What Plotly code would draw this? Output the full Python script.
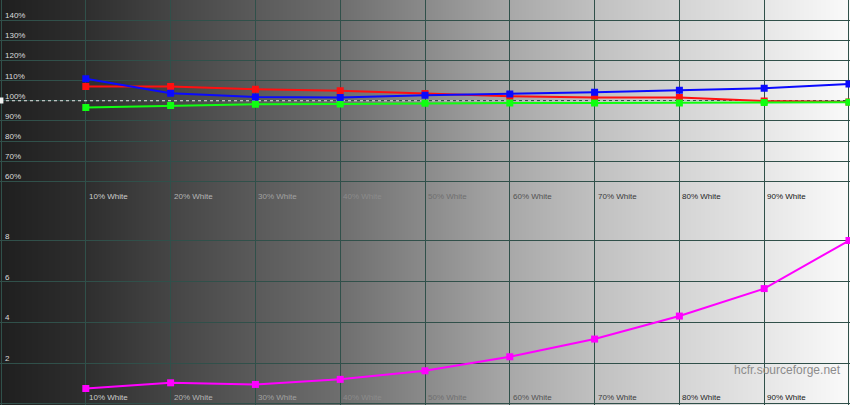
import base64
import struct
import zlib
import plotly.graph_objects as go

# ---- data ----
levels = [10, 20, 30, 40, 50, 60, 70, 80, 90, 100]
level_labels = ["10% White", "20% White", "30% White", "40% White", "50% White",
                "60% White", "70% White", "80% White", "90% White"]
red = [107.1, 107.1, 105.7, 104.9, 103.6, 102.2, 101.6, 101.6, 99.9, 99.4]
green = [96.7, 97.6, 98.3, 98.4, 98.8, 98.9, 98.9, 98.9, 99.1, 99.3]
blue = [110.9, 103.7, 101.9, 101.6, 102.7, 103.4, 104.2, 105.2, 106.2, 108.3]
delta_e = [0.75, 1.03, 0.95, 1.2, 1.62, 2.31, 3.18, 4.31, 5.66, 8.02]
pct_ticks = [60, 70, 80, 90, 100, 110, 120, 130, 140]
de_ticks = [2, 4, 6, 8]

# background gradient (grey level at each 10% step)
bg_pos = [0, 10, 20, 30, 40, 50, 60, 70, 80, 90, 100]
bg_grey = [31, 46, 69, 90, 110, 138, 168, 192, 212, 230, 250]

GRID = "#30504a"
FONT = "Liberation Sans, Arial, sans-serif"
XR = [-0.12, 100.12]
TOP_R = [50.0, 150.0]
BOT_R = [-0.06, 9.94]
W, H = 850, 405


def grey_at(p):
    if p <= bg_pos[0]:
        return bg_grey[0]
    for i in range(len(bg_pos) - 1):
        if bg_pos[i] <= p <= bg_pos[i + 1]:
            t = (p - bg_pos[i]) / (bg_pos[i + 1] - bg_pos[i])
            return bg_grey[i] + t * (bg_grey[i + 1] - bg_grey[i])
    return bg_grey[-1]


def gradient_png():
    row = bytearray([0])
    for c in range(W):
        p = XR[0] + (c + 0.5) / W * (XR[1] - XR[0])
        g = int(round(grey_at(p)))
        row += bytes([g, g, g])
    raw = bytes(row)

    def chunk(tag, data):
        return (struct.pack(">I", len(data)) + tag + data +
                struct.pack(">I", zlib.crc32(tag + data) & 0xFFFFFFFF))

    png = b"\x89PNG\r\n\x1a\n"
    png += chunk(b"IHDR", struct.pack(">IIBBBBB", W, 1, 8, 2, 0, 0, 0))
    png += chunk(b"IDAT", zlib.compress(raw))
    png += chunk(b"IEND", b"")
    return "data:image/png;base64," + base64.b64encode(png).decode()


fig = go.Figure()

# 100% reference dashed line
fig.add_trace(go.Scatter(x=[XR[0], XR[1]], y=[100, 100], mode="lines",
                         line=dict(color="#e8e8e8", width=1.2, dash="3px,3px"),
                         hoverinfo="skip", showlegend=False, xaxis="x", yaxis="y"))

for vals, col in ((red, "#ff1010"), (green, "#10ff10"), (blue, "#0a0aff")):
    fig.add_trace(go.Scatter(x=levels, y=vals, mode="lines+markers",
                             line=dict(color=col, width=2),
                             marker=dict(symbol="square", size=7, color=col),
                             showlegend=False, xaxis="x", yaxis="y"))

fig.add_trace(go.Scatter(x=levels, y=delta_e, mode="lines+markers",
                         line=dict(color="#ff00ff", width=2),
                         marker=dict(symbol="square", size=7, color="#ff00ff"),
                         showlegend=False, xaxis="x2", yaxis="y2"))

annotations = []
for i, lab in enumerate(level_labels):
    g = int(255 - grey_at(levels[i] + 2))
    c = f"rgb({g},{g},{g})"
    for ya, yv in (("y", 52.3), ("y2", 0.285)):
        annotations.append(dict(x=levels[i], y=yv, xref="x" if ya == "y" else "x2", yref=ya,
                                text=lab, showarrow=False, xanchor="left", yanchor="middle",
                                xshift=1, font=dict(family=FONT, size=8, color=c)))
for v in pct_ticks:
    annotations.append(dict(x=0.003, y=v, xref="paper", yref="y", text=f"{v}%",
                            showarrow=False, xanchor="left", yanchor="bottom", yshift=-2,
                            font=dict(family=FONT, size=8, color="#dcdcdc")))
for v in de_ticks:
    annotations.append(dict(x=0.003, y=v, xref="paper", yref="y2", text=str(v),
                            showarrow=False, xanchor="left", yanchor="bottom", yshift=-2,
                            font=dict(family=FONT, size=8, color="#dcdcdc")))
annotations.append(dict(x=0.992, y=1.66, xref="paper", yref="y2", text="hcfr.sourceforge.net",
                        showarrow=False, xanchor="right", yanchor="middle",
                        font=dict(family=FONT, size=12, color="#8c8c8c")))

axis_common = dict(showticklabels=False, zeroline=False, showline=False, ticks="",
                   gridcolor=GRID, gridwidth=1)
fig.update_layout(
    width=W, height=H,
    margin=dict(l=0, r=0, t=0, b=0),
    paper_bgcolor="#1f1f1f", plot_bgcolor="rgba(0,0,0,0)",
    showlegend=False,
    xaxis=dict(domain=[0, 1], range=XR, anchor="y", tickvals=bg_pos, **axis_common),
    yaxis=dict(domain=[0.5025, 1], range=TOP_R, anchor="x", tickvals=pct_ticks, **axis_common),
    xaxis2=dict(domain=[0, 1], range=XR, anchor="y2", tickvals=bg_pos, **axis_common),
    yaxis2=dict(domain=[0, 0.5025], range=BOT_R, anchor="x2", tickvals=[0] + de_ticks, **axis_common),
    annotations=annotations,
    images=[dict(source=gradient_png(), xref="paper", yref="paper", x=0, y=1,
                 sizex=1, sizey=1, sizing="stretch", xanchor="left", yanchor="top",
                 layer="below")],
    shapes=[dict(type="rect", xref="paper", yref="y", x0=0, x1=0.004, y0=98.6, y1=101.6,
                 fillcolor="#f0f0f0", line=dict(width=0))],
)

fig.write_html("out.html", config={"displayModeBar": False},
               post_script="document.body.style.margin='0px';")
